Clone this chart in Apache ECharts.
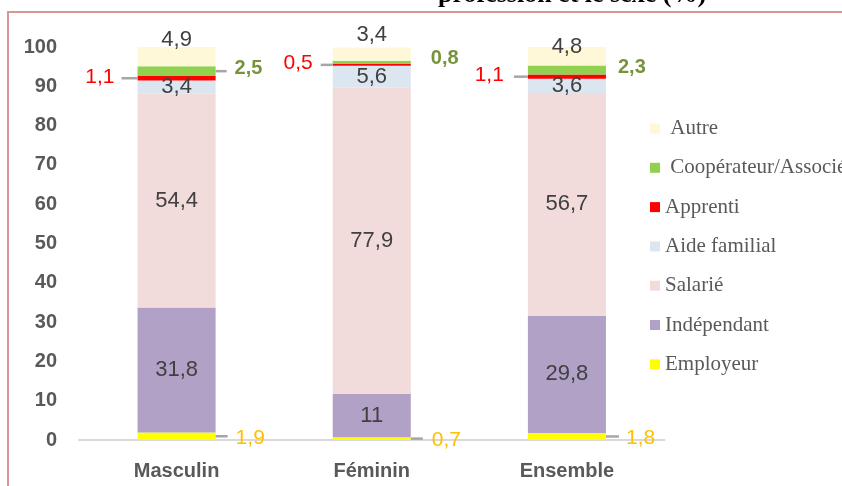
<!DOCTYPE html>
<html>
<head>
<meta charset="utf-8">
<script src="https://cdn.jsdelivr.net/npm/echarts@6/dist/echarts.min.js"></script>
<style>html,body{margin:0;padding:0;background:#fff;}#c{width:842px;height:486px;}</style>
</head>
<body>
<div id="c"></div>
<script>
const categories = ['Masculin', 'Féminin', 'Ensemble'];
const employeur = [1.9, 0.7, 1.8];
const independant = [31.8, 11, 29.8];
const salarie = [54.4, 77.9, 56.7];
const aideFamilial = [3.4, 5.6, 3.6];
const apprenti = [1.1, 0.5, 1.1];
const cooperateur = [2.5, 0.8, 2.3];
const autre = [4.9, 3.4, 4.8];
const legendOrder = ['Autre', 'Coopérateur/Associé', 'Apprenti', 'Aide familial', 'Salarié', 'Indépendant', 'Employeur'];
const titleText = 'profession et le sexe (%)';

const fmt = p => String(p.value).replace('.', ',');
const SANS = 'Liberation Sans, Arial, sans-serif';

function items(values, tweaks) {
  return values.map((v, i) => {
    const t = tweaks ? tweaks[i] : null;
    if (!t) return v;
    const o = { value: v };
    if (t.label) o.label = t.label;
    return o;
  });
}

const insideLabel = { show: true, position: 'inside', color: '#404040', fontSize: 22, fontFamily: SANS, formatter: fmt };

const series = [
  {
    name: 'Employeur', color: '#ffff00', vals: employeur,
    label: { show: true, position: 'right', distance: 20, color: '#ffc000', fontSize: 21, fontFamily: SANS, formatter: fmt, offset: [0, 2] },
    tweaks: [null, { label: { distance: 21 } }, null]
  },
  { name: 'Indépendant', color: '#b2a1c7', vals: independant, label: insideLabel },
  { name: 'Salarié', color: '#f2dcdb', vals: salarie, label: insideLabel },
  { name: 'Aide familial', color: '#dce6f1', vals: aideFamilial, label: insideLabel },
  {
    name: 'Apprenti', color: '#ff0000', vals: apprenti,
    label: { show: true, position: 'left', distance: 23, color: '#ff0000', fontSize: 21, fontFamily: SANS, formatter: fmt, offset: [0, -1] },
    tweaks: [null, { label: { distance: 20, offset: [0, -2] } }, { label: { distance: 24 } }]
  },
  {
    name: 'Coopérateur/Associé', color: '#92d050', vals: cooperateur,
    label: { show: true, position: 'right', distance: 19, color: '#77933c', fontWeight: 'bold', fontSize: 20, fontFamily: SANS, formatter: fmt, offset: [0, -3] },
    tweaks: [null, { label: { distance: 20, offset: [0, -4] } }, { label: { distance: 12, offset: [0, -3] } }]
  },
  {
    name: 'Autre', color: '#fef8d9', vals: autre,
    label: { show: true, position: 'top', distance: -4, color: '#404040', fontSize: 22, fontFamily: SANS, formatter: fmt },
    tweaks: [null, { label: { offset: [0, -5] } }, { label: { offset: [0, 7] } }]
  }
];

// leader lines (style only: which segment, side, length)
const leaders = [
  { s: 'Apprenti', i: 0, side: 'left', len: 16 },
  { s: 'Apprenti', i: 1, side: 'left', len: 12 },
  { s: 'Apprenti', i: 2, side: 'left', len: 14 },
  { s: 'Coopérateur/Associé', i: 0, side: 'right', len: 11 },
  { s: 'Employeur', i: 0, side: 'right', len: 12 },
  { s: 'Employeur', i: 1, side: 'right', len: 12 },
  { s: 'Employeur', i: 2, side: 'right', len: 13 }
];

const chart = echarts.init(document.getElementById('c'), null, { renderer: 'canvas' });
chart.setOption({
  animation: false,
  backgroundColor: '#ffffff',
  grid: { left: 79, right: 177.5, top: 47, bottom: 46, containLabel: false },
  legend: {
    orient: 'vertical', left: 645, top: 113, itemWidth: 10, itemHeight: 10, itemGap: 18.3, itemStyle: { borderWidth: 0 },
    data: legendOrder, icon: 'rect',
    formatter: n => (n === 'Autre' || n.indexOf('Coop') === 0) ? ' ' + n : n,
    textStyle: { color: '#595959', fontSize: 21, lineHeight: 20, fontFamily: 'Liberation Serif, serif' }
  },
  xAxis: {
    type: 'category', data: categories,
    axisLine: { show: true, lineStyle: { color: '#d9d9d9', width: 2 } },
    axisTick: { show: false },
    axisLabel: { color: '#595959', fontWeight: 'bold', fontSize: 20, fontFamily: SANS, margin: 21 }
  },
  yAxis: {
    type: 'value', min: 0, max: 100, interval: 10,
    axisLine: { show: false }, axisTick: { show: false }, splitLine: { show: false },
    axisLabel: { color: '#595959', fontWeight: 'bold', fontSize: 20, fontFamily: SANS, margin: 22 }
  },
  series: series.map(s => ({
    name: s.name, type: 'bar', stack: 'total', barWidth: '40%',
    itemStyle: { color: s.color },
    label: s.label,
    data: items(s.vals, s.tweaks)
  }))
});

// compute leader line positions from the chart's own scales
const p0 = chart.convertToPixel({ gridIndex: 0 }, [0, 0]);
const p1 = chart.convertToPixel({ gridIndex: 0 }, [1, 0]);
const halfBar = (p1[0] - p0[0]) * 0.4 / 2;
const graphics = [
  { type: 'rect', shape: { x: 8, y: 12, width: 900, height: 600 }, style: { fill: 'none', stroke: '#d99694', lineWidth: 2 }, z: 0 },
  { type: 'text', x: 572, y: 8, style: { text: titleText, font: 'bold 26px "Liberation Serif", serif', fill: '#000000', textAlign: 'center', textVerticalAlign: 'bottom' }, z: 10 }
];
leaders.forEach(l => {
  let below = 0;
  for (const s of series) {
    if (s.name === l.s) { below += s.vals[l.i] / 2; break; }
    below += s.vals[l.i];
  }
  const pt = chart.convertToPixel({ gridIndex: 0 }, [l.i, below]);
  const x0 = l.side === 'left' ? pt[0] - halfBar : pt[0] + halfBar;
  const x1 = l.side === 'left' ? x0 - l.len : x0 + l.len;
  graphics.push({ type: 'line', shape: { x1: x0, y1: pt[1], x2: x1, y2: pt[1] }, style: { stroke: '#a6a6a6', lineWidth: 2.5 }, z: 20 });
});
chart.setOption({ graphic: graphics });
</script>
</body>
</html>
